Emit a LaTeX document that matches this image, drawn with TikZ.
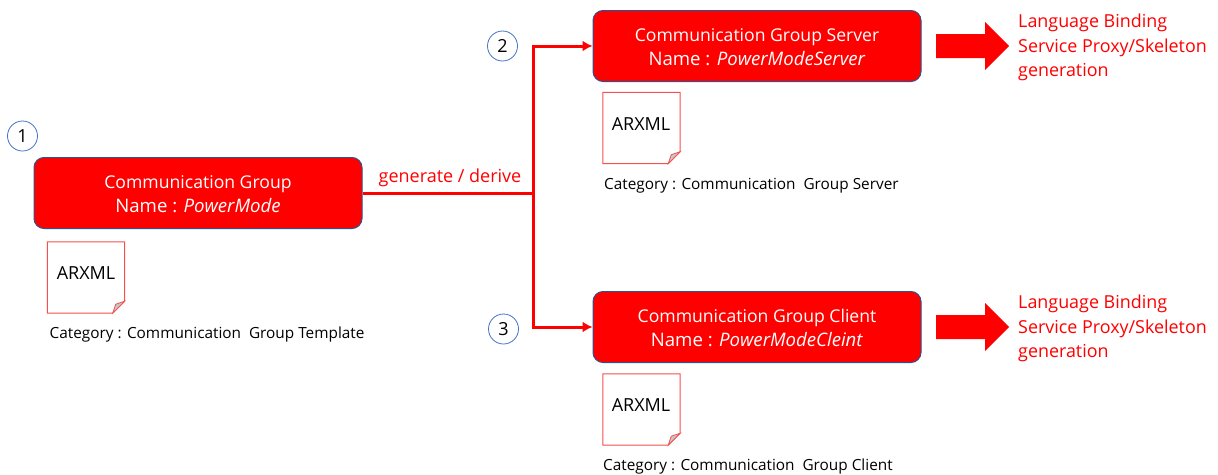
\documentclass[tikz,border=0pt]{standalone}
\usepackage{fontspec}
\setmainfont{Open Sans}
\usetikzlibrary{arrows.meta,calc}
\definecolor{boxedge}{RGB}{47,82,143}
\definecolor{circedge}{RGB}{68,114,196}
\definecolor{docedge}{RGB}{245,80,80}
\newcommand{\namefont}{\fontsize{18.6}{24.5}\selectfont}
\tikzset{
  x=1pt,y=-1pt,
  groupbox/.style={draw=boxedge,line width=1pt,fill=red,rounded corners=10pt,minimum width=328pt,minimum height=71pt,inner sep=0pt},
  boxtext/.style={text=white,align=center,font=\fontsize{17.6}{24.5}\selectfont,inner sep=0pt},
  numcirc/.style={draw=circedge,line width=0.8pt,circle,minimum size=30pt,inner sep=0pt,font=\fontsize{18}{20}\selectfont,text=black},
  docnode/.style={minimum width=77pt,minimum height=71pt,inner sep=0pt},
  doctext/.style={font=\fontsize{18}{20}\selectfont,text=black,inner sep=0pt},
  cattext/.style={font=\fontsize{15.35}{18}\selectfont,text=black,anchor=west,inner sep=0pt},
  link/.style={draw=red,line width=3pt},
  bigarrow/.style={fill=red,draw=none},
  redtext/.style={text=red,anchor=west,align=left,font=\fontsize{17.9}{24.5}\selectfont,inner sep=0pt},
}
\newcommand{\docsheet}[1]{%
  \draw[docedge,line width=1pt,fill=white]
    ($(#1.north west)$) -- ($(#1.north east)$) -- ($(#1.south east)+(0,-12)$) -- ($(#1.south east)+(-12,0)$) -- ($(#1.south west)$) -- cycle;
  \draw[docedge,line width=0.8pt,fill=black!22]
    ($(#1.south east)+(0,-12)$) -- ($(#1.south east)+(-9,-9)$) -- ($(#1.south east)+(-12,0)$) -- cycle;
}
\newcommand{\blockarrow}[2]{%
  \fill[bigarrow] ($(#1)+(0,-12)$) -- ($(#1)+(49,-12)$) -- ($(#1)+(49,-24)$) -- ($(#1)+(73,0)$) -- ($(#1)+(49,24)$) -- ($(#1)+(49,12)$) -- ($(#1)+(0,12)$) -- cycle;
}
\begin{document}
\begin{tikzpicture}
\useasboundingbox (0,0) rectangle (1218,474);
\node[groupbox] (main) at (198,193) {};
\node[groupbox] (server) at (757,46) {};
\node[groupbox] (client) at (757,327) {};
\node[boxtext] (mt) at (198,194) {Communication Group\\{\namefont Name : \textit{PowerMode}}};
\node[boxtext] (st) at (757,47) {Communication Group Server\\{\namefont Name : \textit{PowerModeServer}}};
\node[boxtext] (ct) at (757,328) {Communication Group Client\\{\namefont Name : \textit{PowerModeCleint}}};

\node[numcirc] (n1) at (22.5,136) {1};
\node[numcirc] (n2) at (502.5,46) {2};
\node[numcirc] (n3) at (503.5,329) {3};

\node[docnode] (d1) at (86,277.5) {};
\node[docnode] (d2) at (641.5,128) {};
\node[docnode] (d3) at (641.5,409.5) {};
\docsheet{d1}\docsheet{d2}\docsheet{d3}
\node[doctext] (a1) at (86,273) {ARXML};
\node[doctext] (a2) at (641,124) {ARXML};
\node[doctext] (a3) at (641,405) {ARXML};

\node[cattext] (c1) at (49.5,335) {Category : Communication\ \ Group Template};
\node[cattext] (c2) at (604,186) {Category : Communication\ \ Group Server};
\node[cattext] (c3) at (603,467) {Category : Communication\ \ Group Client};

\coordinate (junction) at (533,193);
\draw[link] (main.east) -- (junction);
\draw[link,-{Latex[length=10pt,width=11pt]}] (junction) |- (server.west);
\draw[link,-{Latex[length=10pt,width=11pt]}] (junction) |- (client.west);
\node[text=red,font=\fontsize{18}{20}\selectfont,inner sep=0pt] (gd) at (450,178) {generate / derive};

\coordinate (ar1) at (936,46);
\coordinate (ar2) at (936,327);
\blockarrow{ar1}{}
\blockarrow{ar2}{}
\node[redtext] (t1) at (1018,47.5) {Language Binding\\Service Proxy/Skeleton\\generation};
\node[redtext] (t2) at (1018,328.5) {Language Binding\\Service Proxy/Skeleton\\generation};
\end{tikzpicture}
\end{document}
